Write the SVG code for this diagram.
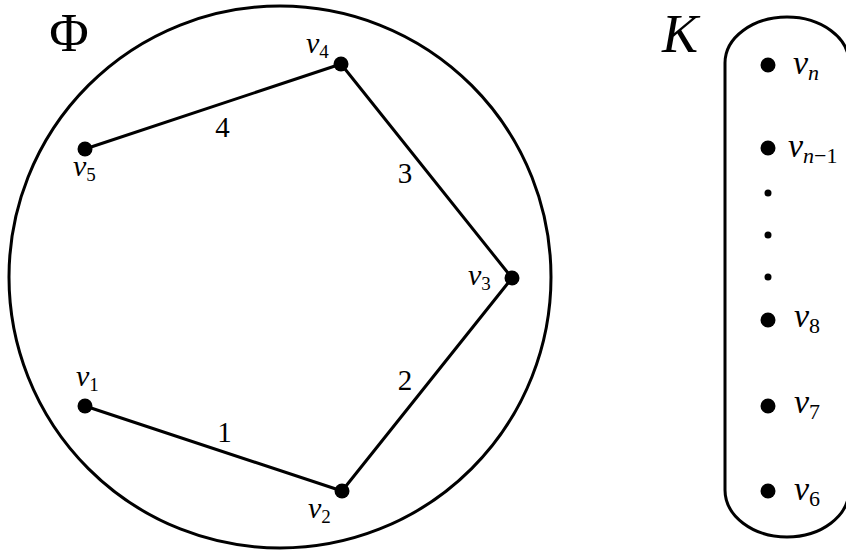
<svg xmlns="http://www.w3.org/2000/svg" width="846" height="551" viewBox="0 0 846 551">
<style>
.bg{fill:#fff}
.outline{fill:none;stroke:#000;stroke-width:3}
.edge{fill:none;stroke:#000;stroke-width:3;stroke-linecap:round}
.dot{fill:#000}
text{font-family:"Liberation Serif","DejaVu Serif",serif;fill:#000}
.lbl{font-size:30px;font-style:italic}
.klbl{font-size:34px;font-style:italic}
.sub{font-style:normal;font-size:19px}
.ksub{font-style:normal;font-size:22px}
.ksubi{font-style:italic;font-size:22px}
.num{font-size:29px;text-anchor:middle}
.big{font-size:54px}
.bigi{font-size:54px;font-style:italic}
</style>
<rect class="bg" x="0" y="0" width="846" height="551"/>
<g id="phi-region">
<circle class="outline" cx="280" cy="277" r="271"/>
<text class="big" x="69" y="51" text-anchor="middle">Φ</text>
</g>
<g id="connectors">
<line class="edge" x1="85" y1="406" x2="342" y2="491"/>
<line class="edge" x1="342" y1="491" x2="512" y2="278"/>
<line class="edge" x1="512" y1="278" x2="341" y2="64"/>
<line class="edge" x1="341" y1="64" x2="85" y2="149"/>
<text class="num" x="224.5" y="442">1</text>
<text class="num" x="405" y="390">2</text>
<text class="num" x="405" y="183">3</text>
<text class="num" x="222.5" y="137">4</text>
</g>
<g id="v1"><circle class="dot" cx="85" cy="406" r="7.5"/><text class="lbl" x="76" y="386">v<tspan class="sub" dy="5">1</tspan></text></g>
<g id="v2"><circle class="dot" cx="342" cy="491" r="7.5"/><text class="lbl" x="308" y="518">v<tspan class="sub" dy="5">2</tspan></text></g>
<g id="v3"><circle class="dot" cx="512" cy="278" r="7.5"/><text class="lbl" x="468" y="285">v<tspan class="sub" dy="5">3</tspan></text></g>
<g id="v4"><circle class="dot" cx="341" cy="64" r="7.5"/><text class="lbl" x="306" y="53">v<tspan class="sub" dy="5">4</tspan></text></g>
<g id="v5"><circle class="dot" cx="85" cy="149" r="7.5"/><text class="lbl" x="73" y="176">v<tspan class="sub" dy="5">5</tspan></text></g>
<g id="K-region">
<path class="outline" d="M 725 490 L 725 63 A 62 46 0 0 1 849 63 L 849 490 A 62 47 0 0 1 725 490 Z"/>
<text class="bigi" x="662" y="52">K</text>
</g>
<g id="vn"><circle class="dot" cx="768" cy="65" r="7.5"/><text class="klbl" x="793" y="74">v<tspan class="ksubi" dy="6">n</tspan></text></g>
<g id="vn-1"><circle class="dot" cx="768" cy="148" r="7.5"/><text class="klbl" x="788" y="157">v<tspan class="ksubi" dy="6">n</tspan><tspan class="ksub">−1</tspan></text></g>
<g id="ellipsis">
<circle class="dot" cx="768" cy="193" r="3.5"/>
<circle class="dot" cx="768" cy="235" r="3.5"/>
<circle class="dot" cx="768" cy="277" r="3.5"/>
</g>
<g id="v8"><circle class="dot" cx="768" cy="320" r="7.5"/><text class="klbl" x="794" y="327">v<tspan class="ksub" dy="6">8</tspan></text></g>
<g id="v7"><circle class="dot" cx="768" cy="406" r="7.5"/><text class="klbl" x="794" y="413">v<tspan class="ksub" dy="6">7</tspan></text></g>
<g id="v6"><circle class="dot" cx="768" cy="491" r="7.5"/><text class="klbl" x="794" y="500">v<tspan class="ksub" dy="6">6</tspan></text></g>
</svg>
